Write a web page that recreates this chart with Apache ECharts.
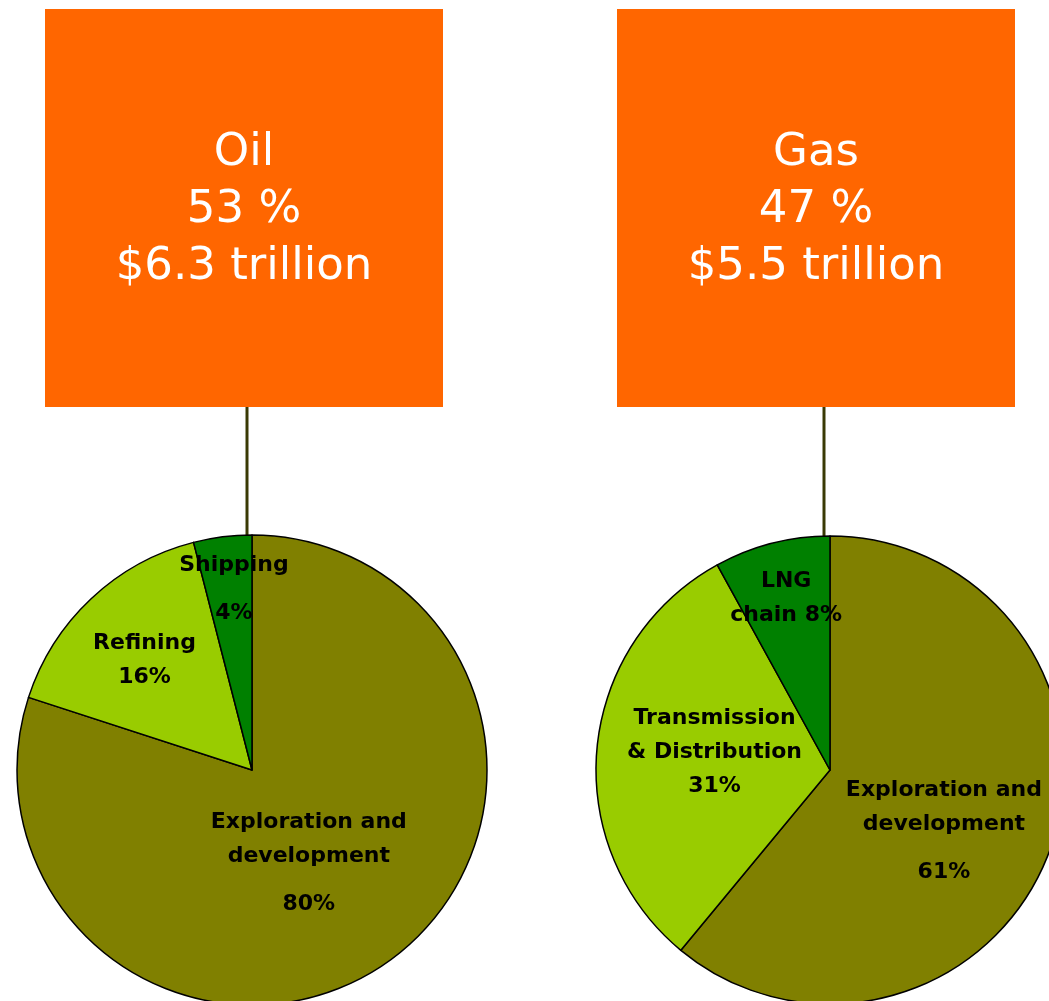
<!DOCTYPE html>
<html>
<head>
<meta charset="utf-8">
<script src="https://cdn.jsdelivr.net/npm/echarts@6/dist/echarts.min.js"></script>
<style>
html,body{margin:0;padding:0;background:#fff;}
#chart{width:1049px;height:1001px;}
</style>
</head>
<body>
<div id="chart"></div>
<script>
// ---- data ----
const boxTitles = ['Oil', 'Gas'];
const boxShares = ['53 %', '47 %'];
const boxValues = ['$6.3 trillion', '$5.5 trillion'];

const oilCategories = ['Exploration and\ndevelopment', 'Refining', 'Shipping'];
const oilValues = [80, 16, 4];

const gasCategories = ['Exploration and\ndevelopment', 'Transmission\n& Distribution', 'LNG\nchain'];
const gasValues = [61, 31, 8];

// ---- styles ----
const sliceColors = ['#808000', '#99CC00', '#008000'];
// how the value line joins the name: 'gap' (blank space), 'line' (next line), 'same' (same line)
const oilJoin = ['gap', 'line', 'gap'];
const gasJoin = ['gap', 'line', 'same'];
const oilShift = [[-14, 3], [-25, -22], [-3, -54]];
const gasShift = [[1, 28], [4, -6], [-14, -55]];

function makeFormatter(joins) {
  return function (p) {
    const lines = p.name.split('\n');
    const j = joins[p.dataIndex];
    const v = p.value + '%';
    if (j === 'same') {
      lines[lines.length - 1] += ' ' + v;
      return lines.map(l => '{n|' + l + '}').join('\n');
    }
    const out = lines.map(l => '{n|' + l + '}');
    out.push(j === 'gap' ? '{g|' + v + '}' : '{n|' + v + '}');
    return out.join('\n');
  };
}

const labelBase = {
  show: true,
  position: 'inside',
  color: '#000',
  fontFamily: 'DejaVu Sans',
  fontWeight: 'bold',
  fontSize: 22,
  align: 'center',
  rich: {
    n: { fontFamily: 'DejaVu Sans', fontWeight: 'bold', fontSize: 22, lineHeight: 34, color: '#000', align: 'center' },
    g: { fontFamily: 'DejaVu Sans', fontWeight: 'bold', fontSize: 22, lineHeight: 62, color: '#000', align: 'center' }
  }
};

function buildData(cats, vals) {
  return cats.map((c, i) => ({ name: c, value: vals[i], itemStyle: { color: sliceColors[i] } }));
}

const boxRects = [[45, 9, 398, 398], [617, 9, 398, 398]];
const connectors = [[247, 407, 247, 536], [824, 407, 824, 536]];

const graphics = [];
boxRects.forEach((r, i) => {
  graphics.push({
    type: 'rect', z: 0,
    shape: { x: r[0], y: r[1], width: r[2], height: r[3] },
    style: { fill: '#FF6600' }
  });
  graphics.push({
    type: 'text', z: 1,
    x: r[0] + r[2] / 2, y: r[1] + r[3] / 2 + 2,
    style: {
      text: boxTitles[i] + '\n' + boxShares[i] + '\n' + boxValues[i],
      fill: '#fff',
      font: '45px "DejaVu Sans"',
      lineHeight: 57,
      align: 'center',
      verticalAlign: 'middle'
    }
  });
});
connectors.forEach(c => {
  graphics.push({
    type: 'line', z: 0,
    shape: { x1: c[0], y1: c[1], x2: c[2], y2: c[3] },
    style: { stroke: '#3a3a05', lineWidth: 3 }
  });
});

const chart = echarts.init(document.getElementById('chart'), null, { renderer: 'canvas' });
chart.setOption({
  animation: false,
  backgroundColor: '#fff',
  graphic: graphics,
  series: [
    {
      type: 'pie',
      center: [252, 770],
      radius: 235,
      startAngle: 90,
      clockwise: true,
      avoidLabelOverlap: false,
      itemStyle: { borderColor: '#000', borderWidth: 1.5 },
      emphasis: { disabled: true },
      label: Object.assign({}, labelBase, { formatter: makeFormatter(oilJoin) }),
      labelLine: { show: false },
      labelLayout: p => ({ dx: oilShift[p.dataIndex][0], dy: oilShift[p.dataIndex][1] }),
      data: buildData(oilCategories, oilValues)
    },
    {
      type: 'pie',
      center: [830, 770],
      radius: 234,
      startAngle: 90,
      clockwise: true,
      avoidLabelOverlap: false,
      itemStyle: { borderColor: '#000', borderWidth: 1.5 },
      emphasis: { disabled: true },
      label: Object.assign({}, labelBase, { formatter: makeFormatter(gasJoin) }),
      labelLine: { show: false },
      labelLayout: p => ({ dx: gasShift[p.dataIndex][0], dy: gasShift[p.dataIndex][1] }),
      data: buildData(gasCategories, gasValues)
    }
  ]
});
</script>
</body>
</html>
